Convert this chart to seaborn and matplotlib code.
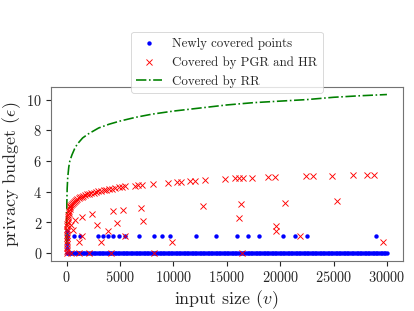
import matplotlib
matplotlib.use('Agg')
import matplotlib.pyplot as plt
import seaborn as sns

# valores lidos do grafico de referencia
# pontos novos (eps ~ 0) - faixa densa ao longo do eixo x
band_x = [0, 150, 300, 450, 600, 750, 900, 1050, 1200, 1350, 1500, 1650, 1800, 1950,
          2100, 2250, 2400, 2550, 2700, 2850, 3000, 3150, 3300, 3450, 3600, 3750,
          3900, 4050, 4200, 4350, 4500, 4650, 4800, 4950, 5100, 5250, 5400, 5550,
          5700, 5850, 6000, 6150, 6300, 6450, 6600, 6750, 6900, 7050, 7200, 7350,
          7500, 7650, 7800, 7950, 8100, 8250, 8400, 8550, 8700, 8850, 9000, 9150,
          9300, 9450, 9600, 9750, 9900, 10050, 10200, 10350, 10500, 10650, 10800,
          10950, 11100, 11250, 11400, 11550, 11700, 11850, 12000, 12150, 12300,
          12450, 12600, 12750, 12900, 13050, 13200, 13350, 13500, 13650, 13800,
          13950, 14100, 14250, 14400, 14550, 14700, 14850, 15000, 15150, 15300,
          15450, 15600, 15750, 15900, 16050, 16200, 16350, 16500, 16650, 16800,
          16950, 17100, 17250, 17400, 17550, 17700, 17850, 18000, 18150, 18300,
          18450, 18600, 18750, 18900, 19050, 19200, 19350, 19500, 19650, 19800,
          19950, 20100, 20250, 20400, 20550, 20700, 20850, 21000, 21150, 21300,
          21450, 21600, 21750, 21900, 22050, 22200, 22350, 22500, 22650, 22800,
          22950, 23100, 23250, 23400, 23550, 23700, 23850, 24000, 24150, 24300,
          24450, 24600, 24750, 24900, 25050, 25200, 25350, 25500, 25650, 25800,
          25950, 26100, 26250, 26400, 26550, 26700, 26850, 27000, 27150, 27300,
          27450, 27600, 27750, 27900, 28050, 28200, 28350, 28500, 28650, 28800,
          28950, 29100, 29250, 29400, 29550, 29700, 29850, 30000]
band_eps = [0.0] * len(band_x)

# pontos novos acima de zero
new_x = [3, 8, 15, 25, 40, 0, 650, 1250, 2950, 3420, 3880, 4380, 4930, 5500,
         6780, 8150, 8900, 9680, 12150, 13970, 15930, 16960, 18020, 20240,
         21400, 22550, 28990]
new_eps = [0.3, 0.6, 0.9, 1.2, 1.45, 1.1, 1.1, 1.1, 1.1, 1.1, 1.1, 1.1, 1.1, 1.1,
           1.1, 1.1, 1.1, 1.1, 1.1, 1.1, 1.1, 1.1, 1.1, 1.1,
           1.1, 1.1, 1.1]

# cobertos por PGR e HR
pgr_x = [2, 5, 10, 15, 20, 30, 40, 50, 65, 80, 100, 120, 145, 170, 200, 235,
         270, 310, 360, 420, 490, 570, 660, 760, 870, 990, 1120, 1260, 1410,
         1570, 1740, 1920, 2110, 2310, 2520, 2740, 2970, 3210, 3460, 3720,
         3990, 4270, 4560, 4860, 5170, 5490,
         6400, 6710, 7030, 8060, 9520, 10310, 10680, 11560, 12020, 12960,
         14840, 15780, 16180, 16500, 17340, 18900, 19520, 22430, 23050,
         24840, 26810, 28120, 28800,
         430, 590, 750, 1120, 1430, 1460, 2400, 2850, 3260, 3890, 4380, 4720,
         5250, 5500, 6950, 7150, 9880, 12800, 16150, 16310, 19620, 19620,
         20460, 21870, 25310, 29620,
         10, 430, 1120, 2060, 4120, 8200, 16400]
pgr_eps = [0.15, 0.35, 0.6, 0.8, 0.95, 1.2, 1.4, 1.55, 1.75, 1.9, 2.05, 2.2,
           2.35, 2.5, 2.62, 2.75, 2.87, 2.97, 3.06, 3.14, 3.21, 3.28, 3.35,
           3.41, 3.47, 3.53, 3.58, 3.63, 3.68, 3.73, 3.77, 3.82, 3.86, 3.9,
           3.94, 3.98, 4.02, 4.06, 4.09, 4.13, 4.16, 4.19, 4.23, 4.27, 4.31,
           4.35,
           4.39, 4.43, 4.45, 4.5, 4.56, 4.6, 4.6, 4.67, 4.67, 4.76,
           4.82, 4.87, 4.87, 4.87, 4.89, 4.96, 4.96, 5.0, 5.0,
           5.04, 5.09, 5.1, 5.1,
           1.85, 1.52, 2.17, 0.69, 1.13, 2.32, 2.52, 1.8, 0.69, 1.41, 2.73, 1.96,
           2.78, 1.1, 2.9, 2.08, 0.69, 3.09, 2.28, 3.2, 1.78, 1.41,
           3.26, 1.08, 3.37, 0.72,
           0.0, 0.0, 0.0, 0.0, 0.0, 0.0, 0.0]

# cobertos por RR
rr_x = [1, 5, 20, 50, 100, 200, 300, 500, 750, 1000, 1500, 2000, 3000, 4000,
        5000, 6500, 8000, 10000, 12500, 15000, 17500, 20000, 22500, 25000,
        27500, 30000]
rr_eps = [0.6, 2.0, 3.3, 4.2, 4.9, 5.6, 6.0, 6.4, 6.8, 7.1, 7.5, 7.75, 8.15,
          8.4, 8.6, 8.85, 9.05, 9.25, 9.45, 9.65, 9.8, 9.9, 10.0, 10.15,
          10.25, 10.33]

sns.set_theme(style='ticks')
plt.rcParams['font.family'] = 'serif'
plt.rcParams['font.serif'] = ['cmr10']
plt.rcParams['mathtext.fontset'] = 'cm'
plt.rcParams['axes.formatter.use_mathtext'] = True
plt.rcParams['axes.unicode_minus'] = False

fig, ax = plt.subplots(figsize=(6.4, 4.8), dpi=64.84)
fig.subplots_adjust(left=0.122, right=0.971, bottom=0.161, top=0.721)

sns.scatterplot(x=band_x + new_x, y=band_eps + new_eps, ax=ax, color='blue',
                marker='o', s=24, linewidth=0, label='Newly covered points',
                zorder=2)
sns.scatterplot(x=pgr_x, y=pgr_eps, ax=ax, color='red', marker='x', s=45,
                linewidth=1.0, label='Covered by PGR and HR', zorder=4)
sns.lineplot(x=rr_x, y=rr_eps, ax=ax, color='green', linestyle='-.',
             linewidth=1.8, label='Covered by RR', zorder=3)

ax.set_xlabel(r'input size ($v$)', fontsize=20)
ax.set_ylabel(r'privacy budget ($\epsilon$)', fontsize=20)
ax.tick_params(labelsize=16)
ax.set_xticks([0, 5000, 10000, 15000, 20000, 25000, 30000])
ax.set_yticks([0, 2, 4, 6, 8, 10])
for s in ax.spines.values():
    s.set_color('0.45')

ax.legend(loc='upper center', bbox_to_anchor=(0.5, 1.314), borderaxespad=0,
          fontsize=14.3, framealpha=0.8)

plt.savefig('out.png', dpi=64.84)
